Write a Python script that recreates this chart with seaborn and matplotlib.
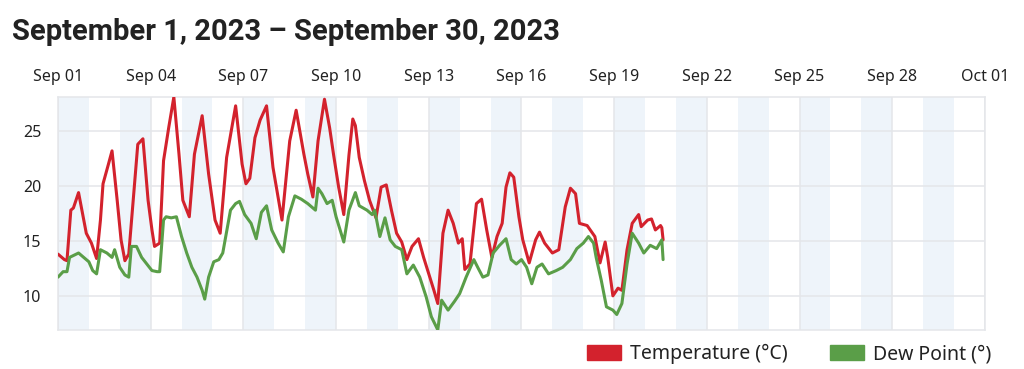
import pandas as pd
import matplotlib.pyplot as plt
import matplotlib.dates as mdates
from matplotlib.patches import Patch
import seaborn as sns

# Hourly readings, hours counted from Sep 01 00:00
start = pd.Timestamp("2023-09-01")

temp_hours = [0, 5, 7, 10, 12, 16, 22, 26, 30, 33, 35, 39, 42, 46, 49, 52, 55, 59, 62, 66,
              70, 73, 75, 79, 82, 86, 90, 94, 97, 102, 106, 112, 117, 122, 126, 131, 138, 143, 146, 149,
              153, 157, 162, 167, 174, 180, 185, 191, 194, 198, 202, 207, 211, 214, 218, 222, 226, 229, 231, 234,
              238, 242, 247, 251, 255, 259, 263, 267, 271, 275, 280, 284, 288, 292, 295, 299, 303, 307, 311, 314,
              316, 320, 325, 329, 333, 337, 341, 345, 348, 351, 354, 358, 361, 366, 371, 374, 378, 384, 389, 394,
              398, 402, 405, 411, 417, 421, 425, 427, 431, 435, 438, 442, 446, 451, 453, 458, 461, 464, 468, 469, 470]
temp_values = [13.8, 13.3, 13.2, 17.8, 18.0, 19.4, 15.7, 14.8, 13.4, 16.9, 20.2, 21.9, 23.2, 18.7, 15.1, 13.2, 13.8, 19.5, 23.8, 24.3,
               18.7, 16.0, 14.5, 14.8, 22.3, 25.3, 28.1, 22.9, 18.7, 17.2, 22.9, 26.4, 21.1, 16.9, 15.7, 22.6, 27.3, 22.0, 20.2, 20.7,
               24.4, 26.0, 27.3, 21.7, 16.9, 24.1, 26.9, 22.9, 21.1, 19.0, 24.1, 27.9, 25.3, 22.9, 19.9, 17.4, 22.8, 26.1, 25.5, 22.6,
               20.5, 18.7, 17.1, 19.9, 20.1, 17.8, 15.7, 14.9, 13.3, 14.5, 15.2, 13.5, 12.0, 10.5, 9.3, 15.7, 17.8, 16.6, 14.8, 15.2,
               12.4, 12.9, 18.4, 18.8, 16.0, 13.5, 15.4, 16.6, 19.9, 21.2, 20.8, 17.2, 15.1, 13.0, 15.1, 15.8, 14.8, 13.9, 14.2, 18.1,
               19.8, 19.3, 16.6, 16.4, 15.4, 13.0, 14.9, 13.5, 10.0, 10.7, 10.5, 14.2, 16.6, 17.4, 16.3, 16.9, 17.0, 16.0, 16.4, 16.2, 15.1]

dew_hours = [0, 4, 7, 9, 16, 20, 24, 27, 30, 33, 38, 42, 44, 48, 52, 55, 57, 61, 65, 69,
             73, 77, 79, 82, 84, 88, 92, 96, 100, 104, 108, 112, 114, 117, 121, 125, 128, 134, 138, 141,
             145, 150, 154, 158, 162, 166, 171, 175, 179, 184, 189, 194, 200, 202, 205, 209, 213, 216, 222, 226,
             231, 234, 240, 244, 246, 250, 254, 258, 262, 267, 271, 276, 281, 286, 290, 295, 298, 303, 308, 312,
             317, 323, 326, 330, 334, 338, 343, 348, 352, 356, 360, 364, 368, 372, 376, 381, 387, 392, 398, 403,
             408, 412, 416, 418, 422, 426, 431, 434, 438, 442, 446, 451, 455, 460, 465, 469, 470]
dew_values = [11.7, 12.2, 12.2, 13.5, 13.9, 13.5, 13.1, 12.3, 12.0, 14.2, 13.9, 13.5, 14.2, 12.6, 11.9, 11.7, 14.5, 14.5, 13.5, 12.9,
              12.3, 12.2, 12.2, 16.9, 17.2, 17.1, 17.2, 15.4, 13.9, 12.6, 11.7, 10.5, 9.7, 11.7, 13.1, 13.3, 13.9, 17.8, 18.4, 18.6,
              17.4, 16.6, 15.2, 17.6, 18.2, 16.0, 14.8, 14.0, 17.2, 19.1, 18.8, 18.4, 17.8, 19.8, 19.3, 18.4, 18.7, 17.2, 14.9, 17.8,
              19.4, 18.2, 17.8, 17.4, 17.8, 15.4, 17.1, 15.1, 14.5, 14.2, 12.0, 12.8, 11.7, 9.9, 8.1, 6.9, 9.6, 8.7, 9.5, 10.2,
              11.7, 13.3, 12.6, 11.7, 11.9, 13.9, 14.6, 15.2, 13.3, 12.9, 13.3, 12.6, 11.1, 12.6, 12.9, 12.0, 12.3, 12.6, 13.3, 14.3,
              14.8, 15.4, 14.8, 13.5, 11.4, 9.0, 8.7, 8.3, 9.3, 12.9, 15.7, 14.8, 13.9, 14.6, 14.3, 15.1, 13.3]

series_names = ["Temperature (°C)", "Dew Point (°)"]
series_colors = ["#d3222d", "#5a9e48"]
y_ticks = [10, 15, 20, 25]

temp_df = pd.DataFrame({"time": start + pd.to_timedelta(temp_hours, unit="h"),
                        "value": temp_values, "series": series_names[0]})
dew_df = pd.DataFrame({"time": start + pd.to_timedelta(dew_hours, unit="h"),
                       "value": dew_values, "series": series_names[1]})
df = pd.concat([temp_df, dew_df], ignore_index=True)

sns.set_style("white")
plt.rcParams["font.family"] = ["Noto Sans", "DejaVu Sans"]

fig = plt.figure(figsize=(10.24, 3.69), dpi=100)
ax = fig.add_axes([0.0566, 0.106, 0.9053, 0.631])

# alternating day bands
days = pd.date_range("2023-09-01", "2023-10-01", freq="D")
for i, d in enumerate(days[:-1]):
    if i % 2 == 0:
        ax.axvspan(d, d + pd.Timedelta(days=1), color="#eef4fa", lw=0, zorder=0)

sns.lineplot(data=df, x="time", y="value", hue="series", hue_order=series_names,
             palette=series_colors, linewidth=2.2, legend=False, ax=ax, zorder=3)

ax.set_xlim(days[0], days[-1])
ax.set_ylim(df["value"].min(), df["value"].max())
ax.set_yticks(y_ticks)
ax.set_xticks(pd.date_range("2023-09-01", "2023-10-01", freq="3D"))
ax.xaxis.set_major_formatter(mdates.DateFormatter("%b %d"))
ax.xaxis.tick_top()
ax.tick_params(axis="both", length=0, labelsize=11.5, colors="#222222")
ax.tick_params(axis="x", pad=9)
ax.tick_params(axis="y", pad=12)
ax.grid(True, color="#e4e6ea", linewidth=1.1, zorder=1)
for s in ax.spines.values():
    s.set_color("#e4e6ea")
    s.set_linewidth(1.1)
ax.set_xlabel("")
ax.set_ylabel("")

fig.text(0.012, 0.913, "September 1, 2023 – September 30, 2023", fontsize=21,
         family=["Roboto", "DejaVu Sans"], fontweight="bold", color="#222222", va="center")

handles = [Patch(color=c, label=n) for n, c in zip(series_names, series_colors)]
fig.legend(handles=handles, loc="center right", bbox_to_anchor=(0.985, 0.04), ncol=2,
           frameon=False, fontsize=14, handlelength=1.75, handleheight=0.75,
           handletextpad=0.45, columnspacing=2.2, labelcolor="#222222")

fig.savefig("out.png", dpi=100)
